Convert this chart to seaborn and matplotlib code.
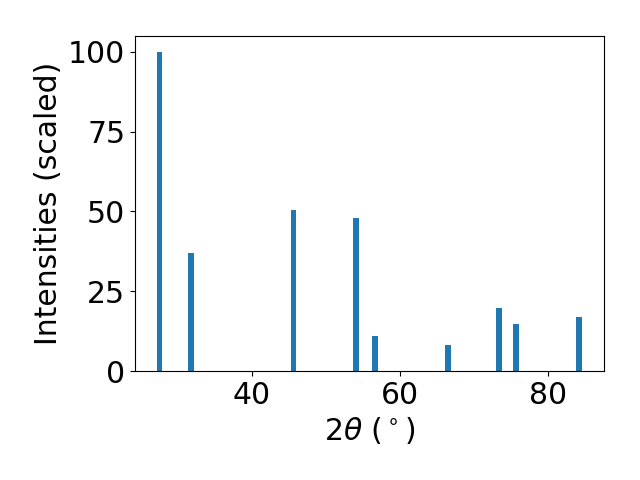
import numpy as np
import pandas as pd
import seaborn as sns
import matplotlib
matplotlib.use("Agg")
import matplotlib.pyplot as plt

# Peak positions (2theta, degrees) and scaled intensities
two_theta = [27.5, 31.8, 45.6, 54.0, 56.6, 66.4, 73.3, 75.6, 84.2]
intensity = [100, 37, 50.5, 48, 11.1, 8.2, 19.7, 14.7, 16.9]
y_ticks = [0, 25, 50, 75, 100]

df = pd.DataFrame({"two_theta": two_theta, "intensity": intensity})

plt.rcParams["font.size"] = 21.5

fig, ax = plt.subplots(figsize=(6.4, 4.8), dpi=100)

# bar width in native units is scaled by the smallest gap between peaks
min_gap = np.diff(sorted(two_theta)).min()
sns.barplot(data=df, x="two_theta", y="intensity", native_scale=True,
            width=0.8 / min_gap, color="#1f77b4", saturation=1,
            linewidth=0, ax=ax)

ax.set_xlim(24.2, 87.55)
ax.set_ylim(0, 105)
ax.set_yticks(y_ticks)
ax.set_xticks([40, 60, 80])
ax.set_xlabel(r"$2\theta$ ($^\circ$)")
ax.set_ylabel("Intensities (scaled)")

fig.subplots_adjust(left=0.211, right=0.944, bottom=0.227, top=0.925)
fig.savefig("out.png", dpi=100)
